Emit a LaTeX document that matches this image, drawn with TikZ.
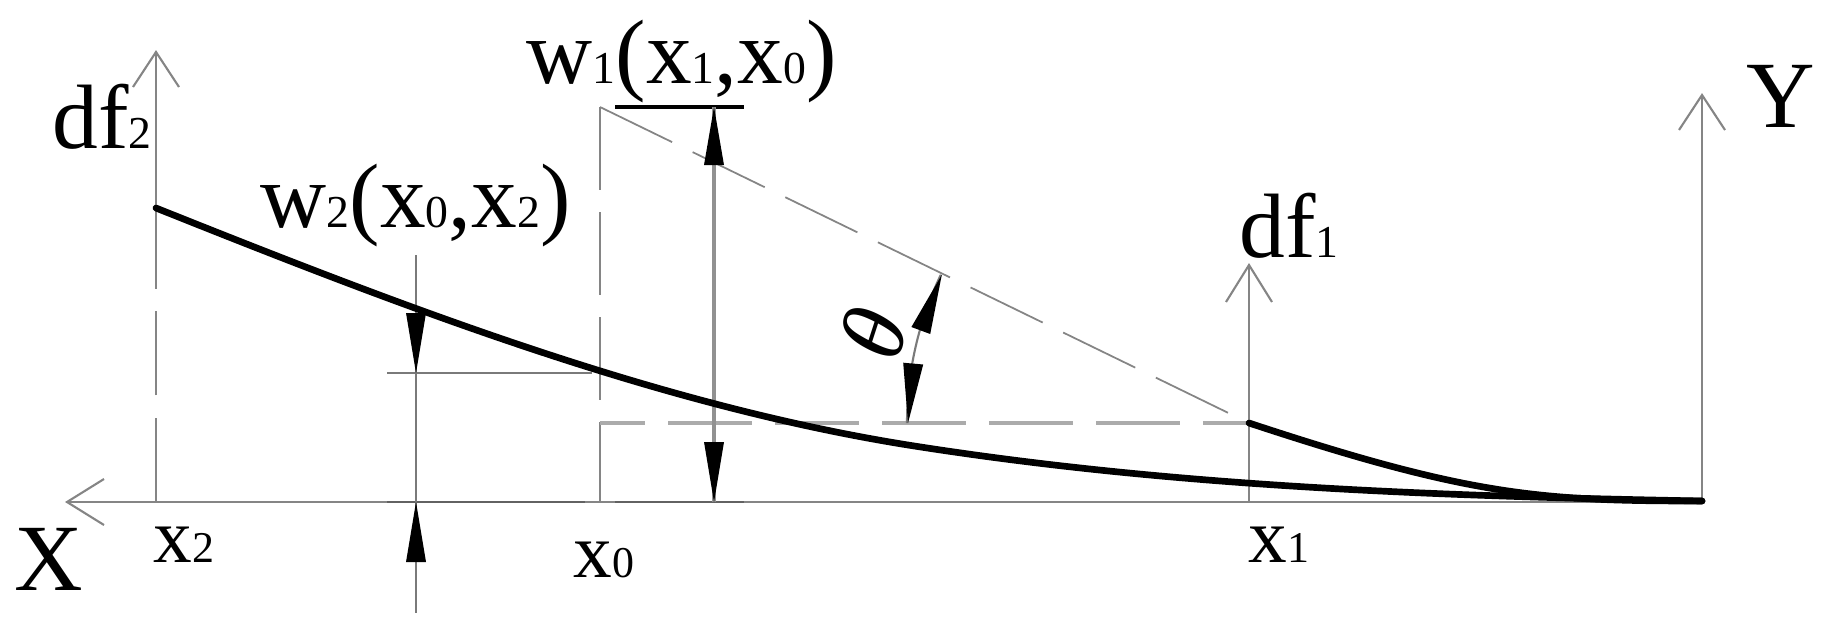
\documentclass[tikz,border=0pt]{standalone}
\usepackage{fontspec}
\setmainfont{Liberation Serif}
\definecolor{axisgray}{HTML}{858585}
\definecolor{dashgray}{HTML}{ABABAB}
\definecolor{dimgray}{HTML}{7A7A7A}
\newcommand\dsub[1]{{\fontsize{13}{15}\selectfont #1}}
\newcommand\tsub[1]{{\fontsize{12.5}{15}\selectfont #1}}
\begin{document}
\begin{tikzpicture}[x=0.01cm, y=-0.01cm,
  lbl/.style={inner sep=0pt, font=\fontsize{26}{30}\selectfont},
  axlbl/.style={inner sep=0pt, font=\fontsize{27}{31}\selectfont},
  ticklbl/.style={inner sep=0pt, font=\fontsize{22}{26}\selectfont},
  axisline/.style={draw=axisgray, line width=0.7pt},
  chev/.style={draw=axisgray, line width=0.6pt},
  guide/.style={draw=axisgray, line width=0.7pt, dash pattern=on 24pt off 6.3pt},
  slant/.style={draw=axisgray, line width=0.5pt, dash pattern=on 22.8pt off 6.5pt},
  levelline/.style={draw=dashgray, line width=1.3pt, dash pattern=on 23.9pt off 6.5pt, dash phase=11pt},
  dimline/.style={draw=dimgray, line width=0.6pt},
  tipfill/.style={fill=black},
  curve/.style={draw=black, line width=1.9pt, line cap=round}
]
\path[use as bounding box] (0,0) rectangle (1827,642);

% key coordinates
\coordinate (O) at (1702,502);
\coordinate (Xend) at (67,502);
\coordinate (Ytop) at (1702,95);
\coordinate (x2b) at (156,502);
\coordinate (x2c) at (156,208);
\coordinate (x2t) at (156,52);
\coordinate (x0b) at (600,502);
\coordinate (x0t) at (600,107);
\coordinate (x1b) at (1249,502);
\coordinate (x1c) at (1249,423);
\coordinate (x1t) at (1249,265);
\coordinate (lev0) at (600,423);
\coordinate (cmid) at (908,445);
\coordinate (cend) at (1702,501);

% axes
\draw[axisline] (O) -- (Xend);
\draw[chev] (104,479) -- (Xend) -- (104,525);
\draw[axisline] (O) -- (Ytop);
\draw[chev] (1679,130) -- (Ytop) -- (1725,130);

% df1 force
\draw[axisline] (x1b) -- (x1t);
\draw[chev] (1226,302) -- (x1t) -- (1272,302);

% df2 force and guide at x2
\draw[guide] (x2b) -- (x2c);
\draw[axisline] (x2c) -- (x2t);
\draw[chev] (133,87) -- (x2t) -- (179,87);

% guide at x0
\draw[draw=axisgray, line width=0.7pt, dash pattern=on 23.6pt off 6.3pt] (x0t) -- (x0b);

% level line and slant line
\draw[levelline] (lev0) -- (x1c);
\draw[slant] (x0t) -- (x1c);

% w1 dimension
\draw[draw=black, line width=1pt] (615,107) -- (744,107);
\draw[draw=dimgray!80!black, line width=0.8pt] (615,502) -- (744,502);
\draw[draw=axisgray!90!white, line width=0.9pt] (714,107) -- (714,502);
\fill[tipfill] (714,107) -- (704,165) -- (724,165) -- cycle;
\fill[tipfill] (714,502) -- (704,442) -- (724,442) -- cycle;

% w2 dimension
\draw[dimline] (387,373) -- (592,373);
\draw[draw=dimgray!80!black, line width=0.8pt] (387,502) -- (585,502);
\draw[dimline] (416,255) -- (416,613);
\fill[tipfill] (416,373) -- (406,313) -- (426,313) -- cycle;
\fill[tipfill] (416,502) -- (406,562) -- (426,562) -- cycle;

% theta dimension arc (centre at x1c)
\draw[dimline] (907,423) arc[start angle=180, end angle=205.7, radius=342];
\fill[tipfill] (941.8,274.7) -- (930.2,334.0) -- (911.4,327.0) -- cycle;
\fill[tipfill] (908,423) -- (923.2,364.5) -- (903.2,362.7) -- cycle;

% deflection curves
\draw[curve] (x2c) .. controls (406,308) and (658,405) .. (cmid)
                  .. controls (1173,487) and (1437,496) .. (cend);
\draw[curve] (x1c) .. controls (1470,496) and (1540,501) .. (cend);

% labels
\node[lbl, anchor=base west] (ldf2) at (52,148) {df\dsub{2}};
\node[lbl, anchor=base west] (lw1) at (526,83) {w\dsub{1}(x\dsub{1},x\dsub{0})};
\node[lbl, anchor=base west] (lw2) at (260,227) {w\dsub{2}(x\dsub{0},x\dsub{2})};
\node[lbl, anchor=base west] (ldf1) at (1239,257) {df\dsub{1}};
\node[lbl, rotate=72] (lth) at (873,333) {\itshape θ};
\node[axlbl, anchor=base west] (lX) at (14,590) {X};
\node[axlbl, anchor=base west] (lY) at (1746,127) {Y};
\node[ticklbl, anchor=base west] (lx2) at (153,562) {x\tsub{2}};
\node[ticklbl, anchor=base west] (lx0) at (573,577) {x\tsub{0}};
\node[ticklbl, anchor=base west] (lx1) at (1248,562) {x\tsub{1}};
\end{tikzpicture}
\end{document}
